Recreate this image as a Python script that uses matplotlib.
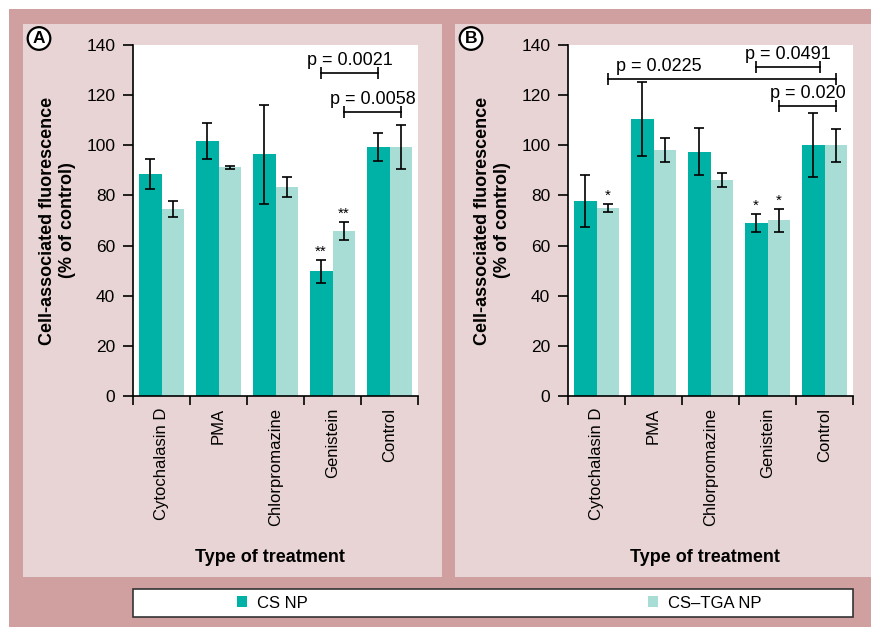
import matplotlib
matplotlib.use('Agg')
import matplotlib.pyplot as plt
from matplotlib.patches import Rectangle, Patch
import numpy as np

plt.rcParams['font.family'] = ['Liberation Sans', 'DejaVu Sans']

# Data
categories = ['Cytochalasin D', 'PMA', 'Chlorpromazine', 'Genistein', 'Control']

a_cs = [88.4, 101.7, 96.4, 49.7, 99.4]
a_cs_err = [6.0, 7.0, 19.8, 4.6, 5.6]
a_tga = [74.5, 91.2, 83.5, 65.8, 99.4]
a_tga_err = [3.3, 0.5, 4.0, 3.6, 8.8]
a_cs_stars = ['', '', '', '**', '']
a_tga_stars = ['', '', '', '**', '']
# (from, to, height, text, text x)
a_pvals = [(2.8, 3.8, 128.8, 'p = 0.0021', None),
           (3.2, 4.2, 113.4, 'p = 0.0058', None)]

b_cs = [77.9, 110.4, 97.4, 69.0, 100.0]
b_cs_err = [10.3, 14.7, 9.4, 3.5, 12.8]
b_tga = [74.9, 98.1, 86.2, 70.1, 100.0]
b_tga_err = [1.7, 4.8, 2.7, 4.6, 6.6]
b_cs_stars = ['', '', '', '*', '']
b_tga_stars = ['*', '', '', '*', '']
b_pvals = [(0.2, 4.2, 126.6, 'p = 0.0225', 1.09),
           (2.8, 3.92, 131.1, 'p = 0.0491', None),
           (3.2, 4.2, 115.7, 'p = 0.020', None)]

teal = '#00b2a6'
light_teal = '#a8ddd6'
outer_pink = '#d0a0a0'
panel_pink = '#e8d4d4'

W, H = 871, 627
fig = plt.figure(figsize=(W / 100, H / 100), dpi=100)


def box(x0, y0, x1, y1, z, **kw):
    fig.add_artist(Rectangle((x0 / W, 1 - y1 / H), (x1 - x0) / W, (y1 - y0) / H,
                             transform=fig.transFigure, zorder=z, **kw))


box(9, 9, W, H, -10, facecolor=outer_pink, edgecolor='none')
box(23, 24, 442, 577, -9, facecolor=panel_pink, edgecolor='none')
box(455, 24, W, 577, -9, facecolor=panel_pink, edgecolor='none')
box(133, 589, 853, 617, -8, facecolor='white', edgecolor='#333333', linewidth=1.2)


def draw_panel(left, cs, cs_err, tga, tga_err, cs_stars, tga_stars, pvals, letter, lx):
    ax = fig.add_axes([left / W, 1 - 396 / H, 285 / W, 351 / H])
    ax.set_facecolor('white')
    x = np.arange(len(categories))
    ekw = dict(ecolor='black', elinewidth=1.2, capsize=3.5, capthick=1.2)
    ax.bar(x - 0.2, cs, 0.4, color=teal, yerr=cs_err, error_kw=ekw)
    ax.bar(x + 0.2, tga, 0.4, color=light_teal, yerr=tga_err, error_kw=ekw)

    for xs, vals, errs, stars in [(x - 0.2, cs, cs_err, cs_stars),
                                  (x + 0.2, tga, tga_err, tga_stars)]:
        for xi, v, e, s in zip(xs, vals, errs, stars):
            if s:
                ax.text(xi, v + e + 0.5, s, ha='center', va='bottom', fontsize=11)

    for x1, x2, y, txt, tx in pvals:
        ax.plot([x1, x2], [y, y], color='black', lw=1.2, marker='|', ms=8,
                mew=1.2, clip_on=False)
        if tx is None:
            tx = (x1 + x2) / 2
        ax.text(tx, y + 1.6, txt, ha='center', va='bottom', fontsize=13)

    ax.set_xlim(-0.5, 4.5)
    ax.set_ylim(0, 140)
    ax.set_yticks(range(0, 141, 20))
    ax.tick_params(axis='y', length=7.2, width=1.2, labelsize=12.5, pad=5.5)
    ax.set_xticks(np.arange(-0.5, 5, 1))
    ax.set_xticklabels([])
    ax.tick_params(axis='x', which='major', length=6.5, width=1.2)
    ax.set_xticks(x, categories, minor=True)
    ax.tick_params(axis='x', which='minor', length=0, pad=8.6, labelsize=12,
                   labelrotation=90)
    for side in ['top', 'right']:
        ax.spines[side].set_visible(False)
    for side in ['left', 'bottom']:
        ax.spines[side].set_linewidth(1.2)

    ax.text(-0.265, 0.5, 'Cell-associated fluorescence\n(% of control)',
            transform=ax.transAxes, rotation=90, ha='center', va='center',
            fontsize=13, fontweight='bold', linespacing=1.25)
    ax.text(0.482, -(558 - 396) / 351, 'Type of treatment', transform=ax.transAxes,
            ha='center', va='center', fontsize=13, fontweight='bold')

    fig.text(lx / W, 1 - 38.5 / H, letter, ha='center', va='center', fontsize=12.5,
             fontweight='bold',
             bbox=dict(boxstyle='circle,pad=0.22', fc='white', ec='black', lw=1.6))
    return ax


draw_panel(133, a_cs, a_cs_err, a_tga, a_tga_err, a_cs_stars, a_tga_stars, a_pvals, 'A', 39)
draw_panel(568, b_cs, b_cs_err, b_tga, b_tga_err, b_cs_stars, b_tga_stars, b_pvals, 'B', 471)

legend_kw = dict(loc='center left', frameon=False, borderpad=0, borderaxespad=0,
                 handlelength=0.6, handleheight=0.6, handletextpad=0.6, fontsize=12)
fig.legend(handles=[Patch(facecolor=teal)], labels=['CS NP'],
           bbox_to_anchor=(237 / W, 1 - 603 / H), **legend_kw)
fig.legend(handles=[Patch(facecolor=light_teal)], labels=['CS\u2013TGA NP'],
           bbox_to_anchor=(648 / W, 1 - 603 / H), **legend_kw)

fig.savefig('out.png', dpi=100)
